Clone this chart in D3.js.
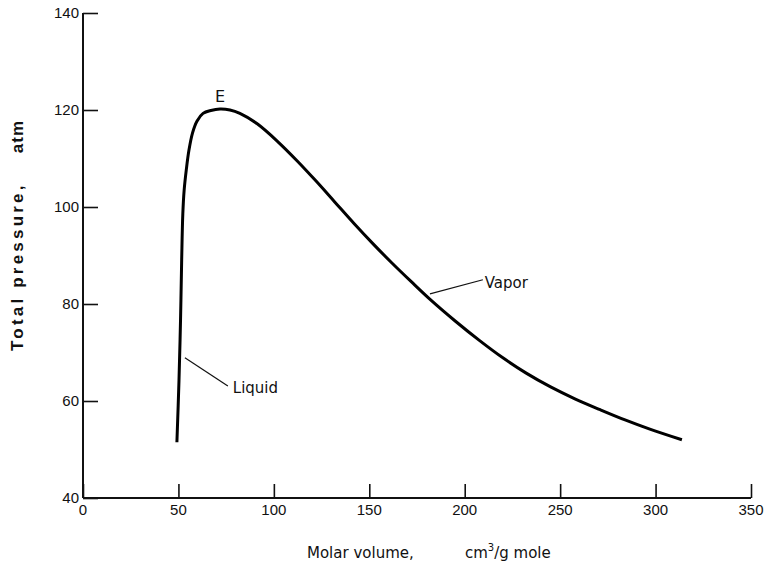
<!DOCTYPE html>
<html>
<head>
<meta charset="utf-8">
<script src="https://cdn.jsdelivr.net/npm/d3@7"></script>
<style>
  body { margin: 0; background: #fff; }
  svg text { font-family: "Liberation Sans", Arial, sans-serif; fill: #111; }
  svg text.lbl { font-family: "DejaVu Sans", sans-serif; }
</style>
</head>
<body>
<script>
// molar volume (cm3/g mole) and total pressure (atm)
var volume = [49.2, 50.3, 51.1, 51.7, 52.3, 53.0, 54.1, 55.5, 57.4, 59.7, 62.9, 67.0, 71.8, 77.0, 82.2,
              91.1, 102.0, 112.0, 122.0, 132.0, 142.0, 152.0, 162.0, 172.0, 182.0, 195.0,
              208.0, 220.0, 232.0, 245.0, 258.0, 271.0, 284.0, 297.0, 313.8];
var pressure = [51.5, 64.3, 76.7, 89.1, 98.6, 103.5, 107.6, 111.7, 115.3, 117.7, 119.3, 119.9, 120.2, 120.0, 119.3,
                117.2, 113.5, 109.6, 105.4, 101.0, 96.6, 92.4, 88.4, 84.6, 80.9, 76.5,
                72.4, 68.9, 65.8, 62.9, 60.4, 58.2, 56.1, 54.2, 52.0];
var xTicks = [0, 50, 100, 150, 200, 250, 300, 350];
var yTicks = [40, 60, 80, 100, 120, 140];

var width = 772, height = 565;
var x = d3.scaleLinear().domain([0, 350]).range([83, 751]);
var y = d3.scaleLinear().domain([40, 140]).range([498, 13]);

var svg = d3.select("body").append("svg")
    .attr("width", width)
    .attr("height", height);

// axes with inward ticks
var xAxis = d3.axisTop(x).tickValues(xTicks).tickSize(14).tickFormat("");
var yAxis = d3.axisRight(y).tickValues(yTicks).tickSize(15).tickFormat("");

var gx = svg.append("g")
    .attr("transform", "translate(0," + y(40) + ")")
    .call(xAxis);
var gy = svg.append("g")
    .attr("transform", "translate(" + x(0) + ",0)")
    .call(yAxis);

[gx, gy].forEach(function(g) {
  g.select(".domain").attr("stroke", "#111").attr("stroke-width", 2)
      .attr("d", g === gx ? "M" + x(0) + ",0H" + x(350) : "M0," + y(140) + "V" + y(40));
  g.selectAll(".tick line").attr("stroke", "#111").attr("stroke-width", 1.6);
});

svg.append("g").selectAll("text")
    .data(xTicks)
    .join("text")
    .attr("x", function(d) { return x(d); })
    .attr("y", y(40) + 17)
    .attr("text-anchor", "middle")
    .style("font-size", "15px")
    .text(function(d) { return d; });

svg.append("g").selectAll("text")
    .data(yTicks)
    .join("text")
    .attr("x", x(0) - 4)
    .attr("y", function(d) { return y(d) + 5; })
    .attr("text-anchor", "end")
    .style("font-size", "15px")
    .text(function(d) { return d; });

// curve
var pts = volume.map(function(v, i) { return [v, pressure[i]]; });
var line = d3.line()
    .x(function(d) { return x(d[0]); })
    .y(function(d) { return y(d[1]); })
    .curve(d3.curveCatmullRom.alpha(0.5));

svg.append("path")
    .datum(pts)
    .attr("fill", "none")
    .attr("stroke", "#000")
    .attr("stroke-width", 3)
    .attr("stroke-linejoin", "round")
    .attr("d", line);

// annotations
svg.append("text")
    .attr("class", "lbl")
    .attr("x", x(71.8))
    .attr("y", y(121.65))
    .attr("text-anchor", "middle")
    .style("font-size", "16px")
    .text("E");

svg.append("line")
    .attr("x1", x(53.4)).attr("y1", y(68.9))
    .attr("x2", x(75.9)).attr("y2", y(63.1))
    .attr("stroke", "#111").attr("stroke-width", 1.2);
svg.append("text")
    .attr("class", "lbl")
    .attr("x", x(78.5))
    .attr("y", y(61.6))
    .style("font-size", "15px")
    .text("Liquid");

svg.append("line")
    .attr("x1", x(181.8)).attr("y1", y(82.1))
    .attr("x2", x(209.5)).attr("y2", y(85.0))
    .attr("stroke", "#111").attr("stroke-width", 1.2);
svg.append("text")
    .attr("class", "lbl")
    .attr("x", x(210.5))
    .attr("y", y(83.3))
    .style("font-size", "15px")
    .text("Vapor");

// axis titles
svg.append("text")
    .attr("class", "lbl")
    .attr("x", 307)
    .attr("y", 558)
    .style("font-size", "15px")
    .text("Molar volume,");
var xt = svg.append("text")
    .attr("class", "lbl")
    .attr("x", 465)
    .attr("y", 558)
    .style("font-size", "15px");
xt.append("tspan").text("cm");
xt.append("tspan").attr("dy", -7).style("font-size", "10px").text("3");
xt.append("tspan").attr("dy", 7).text("/g mole");

svg.append("text")
    .attr("transform", "translate(23,351) rotate(-90)")
    .style("font-size", "17px")
    .style("font-weight", "bold")
    .style("letter-spacing", "3.2px")
    .text("Total pressure,");
svg.append("text")
    .attr("transform", "translate(23,120) rotate(-90)")
    .attr("text-anchor", "end")
    .style("font-size", "17px")
    .style("font-weight", "bold")
    .style("letter-spacing", "1px")
    .text("atm");
</script>
</body>
</html>
